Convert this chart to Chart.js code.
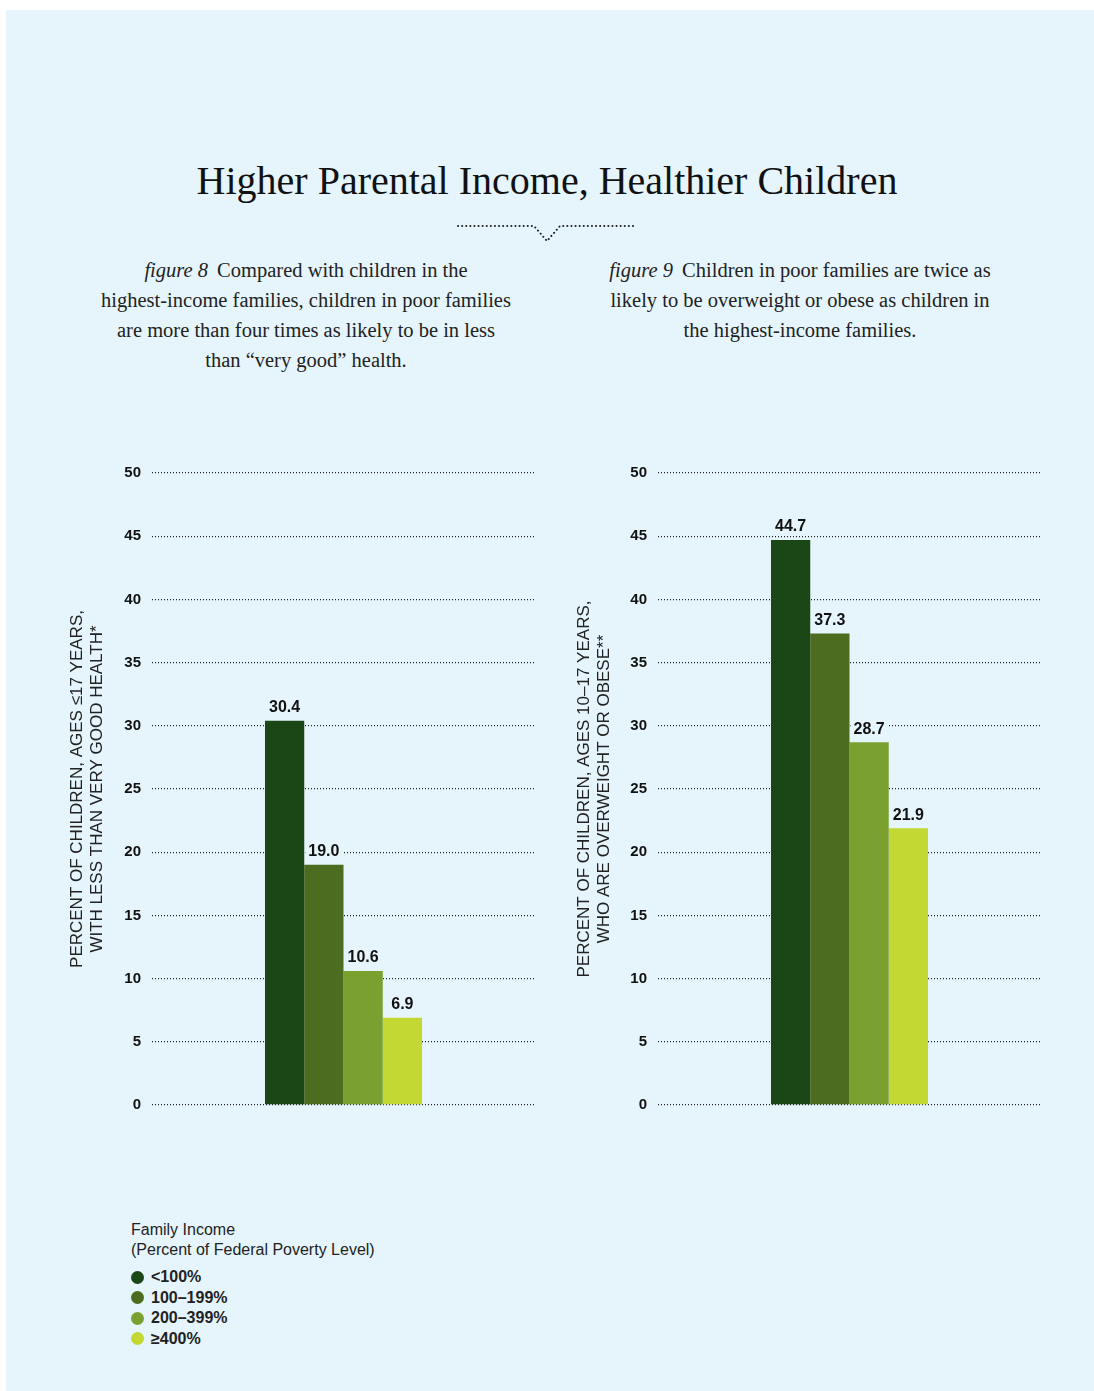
<!DOCTYPE html>
<html lang="en">
<head>
  <meta charset="UTF-8">
  <title>Higher Parental Income, Healthier Children</title>
  <script src="https://cdn.jsdelivr.net/npm/chart.js"></script>
  <style>
    * { margin: 0; padding: 0; box-sizing: border-box; }
    body { background: #ffffff; width: 1094px; height: 1391px; position: relative; overflow: hidden; }

    /* Blue panel */
    #panel {
      position: absolute; left: 6px; top: 10px; width: 1088px; height: 1381px;
      background: #e6f5fc;
    }
    h1 {
      position: absolute; left: 0; width: 1094px; top: 157px;
      text-align: center; font-family: "Liberation Serif", serif;
      font-weight: normal; font-size: 40px; color: #111;
    }
    #divider { position: absolute; left: 450px; top: 218px; }
    .caption {
      position: absolute; top: 255px; text-align: center;
      font-family: "Liberation Serif", serif; font-size: 20.5px; line-height: 30px; color: #222;
    }
    .caption i { margin-right: 4px; }
    canvas { position: absolute; }

    /* Legend */
    #legend {
      position: absolute; left: 131px; top: 1220px;
      font-family: "Liberation Sans", Arial, sans-serif; color: #222;
    }
    #legend .head { font-size: 16px; line-height: 20px; }
    #legend ul { list-style: none; margin-top: 7px; }
    #legend li { font-size: 16px; font-weight: bold; line-height: 20.5px; display: flex; align-items: center; }
    #legend li span { width: 13px; height: 13px; border-radius: 50%; display: inline-block; margin-right: 7px; }
  </style>
</head>
<body>
  <div id="panel"></div>

  <h1>Higher Parental Income, Healthier Children</h1>
  <svg id="divider" width="200" height="30">
    <path d="M8,8 H84 L97,23 L110,8 H187" fill="none" stroke="#222" stroke-width="2"
          stroke-dasharray="0.1 4" stroke-linecap="round"/>
  </svg>

  <div class="caption" style="left:76px; width:460px;">
    <i>figure 8</i> Compared with children in the<br>
    highest-income families, children in poor families<br>
    are more than four times as likely to be in less<br>
    than “very good” health.
  </div>
  <div class="caption" style="left:570px; width:460px;">
    <i>figure 9</i> Children in poor families are twice as<br>
    likely to be overweight or obese as children in<br>
    the highest-income families.
  </div>

  <canvas id="chart8" width="485" height="675" style="left:60px; top:450px;"></canvas>
  <canvas id="chart9" width="485" height="675" style="left:567px; top:450px;"></canvas>

  <div id="legend">
    <div class="head">Family Income<br>(Percent of Federal Poverty Level)</div>
    <ul id="legend-list"></ul>
  </div>

  <script>
    // Data
    const incomeGroups = ['<100%', '100–199%', '200–399%', '≥400%'];
    const poorHealth = [30.4, 19.0, 10.6, 6.9];   // figure 8
    const overweight = [44.7, 37.3, 28.7, 21.9];  // figure 9
    const yTicks = [0, 5, 10, 15, 20, 25, 30, 35, 40, 45, 50];
    const barColors = ['#1b4615', '#4c6c1f', '#7aa12f', '#c3d832'];

    const panelColor = '#e6f5fc';

    // Value labels above bars, with a panel-coloured box so the dotted grid breaks behind them
    const valueLabels = {
      id: 'valueLabels',
      afterDatasetsDraw(chart) {
        const ctx = chart.ctx;
        ctx.save();
        ctx.font = 'bold 16px "Liberation Sans", Arial, sans-serif';
        ctx.textAlign = 'center';
        ctx.textBaseline = 'bottom';
        chart.data.datasets.forEach((ds, i) => {
          const bar = chart.getDatasetMeta(i).data[0];
          const txt = ds.data[0].toFixed(1);
          const w = ctx.measureText(txt).width + 6;
          ctx.fillStyle = panelColor;
          ctx.fillRect(bar.x - w / 2, bar.y - 23, w, 18);
          ctx.fillStyle = '#111';
          ctx.fillText(txt, bar.x, bar.y - 5);
        });
        ctx.restore();
      }
    };

    function makeChart(id, values, titleLines, axisWidth, padRight) {
      new Chart(document.getElementById(id), {
        type: 'bar',
        data: {
          labels: [''],
          datasets: incomeGroups.map((g, i) => ({
            label: g,
            data: [values[i]],
            backgroundColor: barColors[i],
            borderWidth: 0
          }))
        },
        options: {
          responsive: false,
          animation: false,
          devicePixelRatio: 1,
          categoryPercentage: 0.41,
          barPercentage: 1,
          layout: { padding: { top: 23, bottom: 11, right: padRight, left: 0 } },
          plugins: { legend: { display: false }, tooltip: { enabled: false } },
          scales: {
            x: { display: false },
            y: {
              min: 0, max: 50,
              afterFit(scale) { scale.width = axisWidth; },
              afterBuildTicks(scale) { scale.ticks = yTicks.map(v => ({ value: v })); },
              ticks: {
                padding: 11,
                color: '#111',
                font: { family: '"Liberation Sans", Arial, sans-serif', size: 15, weight: 'bold' }
              },
              grid: { color: '#222', lineWidth: 1.3, drawTicks: false },
              border: { display: false, dash: [1, 2] },
              title: {
                display: true,
                text: titleLines,
                color: '#222',
                padding: { top: 7, bottom: 0 },
                font: { family: '"Liberation Sans", Arial, sans-serif', size: 17, lineHeight: 1.18 }
              }
            }
          }
        },
        plugins: [valueLabels]
      });
    }

    makeChart('chart8', poorHealth,
      ['PERCENT OF CHILDREN, AGES ≤17 YEARS,', 'WITH LESS THAN VERY GOOD HEALTH*'], 92, 10);
    makeChart('chart9', overweight,
      ['PERCENT OF CHILDREN, AGES 10–17 YEARS,', 'WHO ARE OVERWEIGHT OR OBESE**'], 91, 11);

    // Legend
    document.getElementById('legend-list').innerHTML = incomeGroups.map((g, i) =>
      `<li><span style="background:${barColors[i]}"></span>${g}</li>`).join('');
  </script>
</body>
</html>
